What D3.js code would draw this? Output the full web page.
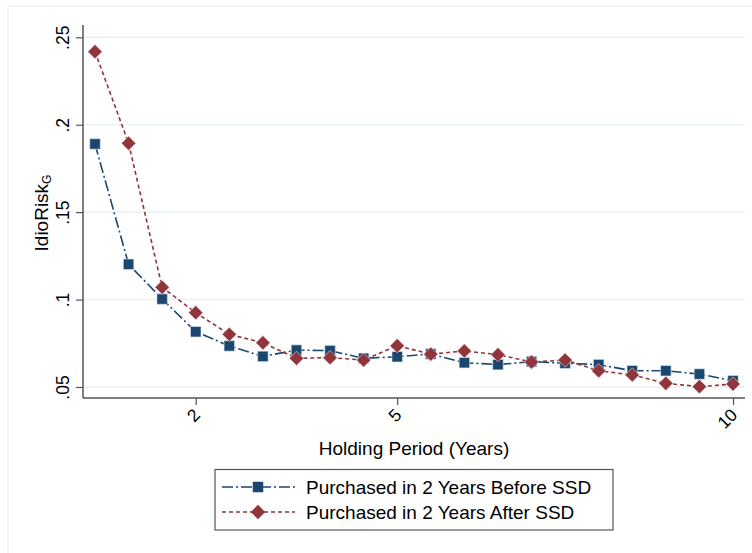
<!DOCTYPE html>
<html>
<head>
<meta charset="utf-8">
<script src="https://cdn.jsdelivr.net/npm/d3@7"></script>
<style>
  body { margin: 0; background: #fff; }
  svg { display: block; font-family: "Liberation Sans", Arial, sans-serif; }
</style>
</head>
<body>
<svg id="chart" width="752" height="553"></svg>
<script>
// data
let years = [0.5, 1, 1.5, 2, 2.5, 3, 3.5, 4, 4.5, 5, 5.5, 6, 6.5, 7, 7.5, 8, 8.5, 9, 9.5, 10]
let beforeSSD = [0.189, 0.1202, 0.1003, 0.0816, 0.0735, 0.0675, 0.0711, 0.0708, 0.0664, 0.0673,
    0.0689, 0.0639, 0.0628, 0.0645, 0.0636, 0.0628, 0.0593, 0.0593, 0.0574, 0.0536]
let afterSSD = [0.2418, 0.1894, 0.107, 0.0925, 0.0801, 0.0753, 0.0664, 0.0668, 0.0654, 0.0736,
    0.0688, 0.0706, 0.0685, 0.0643, 0.0654, 0.0593, 0.0569, 0.0521, 0.0502, 0.0517]
let xTicks = [2, 5, 10]
let yTicks = [0.05, 0.1, 0.15, 0.2, 0.25]
let yTickLabels = ['.05', '.1', '.15', '.2', '.25']
let seriesNames = ['Purchased in 2 Years Before SSD', 'Purchased in 2 Years After SSD']

let navy = '#1a476f'
let maroon = '#90353b'

let svg = d3.select('#chart')
// outer frame
svg.append('rect').attr('x', 8).attr('y', 6).attr('width', 760).attr('height', 560)
    .attr('fill', 'none').attr('stroke', '#eaf2f3').attr('stroke-width', 1.5)

// plot region
let plotLeft = 83, plotRight = 745, plotTop = 25, plotBottom = 398
let xScale = d3.scaleLinear().domain([0.5, 10]).range([95, 733])
let yScale = d3.scaleLinear().domain([0.05, 0.25]).range([387, 37.3])

// grid
svg.append('g').selectAll('line').data(yTicks).enter().append('line')
    .attr('x1', plotLeft).attr('x2', plotRight)
    .attr('y1', d => yScale(d)).attr('y2', d => yScale(d))
    .attr('stroke', '#eaf2f3').attr('stroke-width', 1.5)

// y axis
let yAxis = svg.append('g').attr('transform', 'translate(' + plotLeft + ',0)')
    .call(d3.axisLeft(yScale).tickValues(yTicks).tickSize(7).tickSizeOuter(0).tickFormat((d, i) => yTickLabels[i]))
yAxis.select('.domain').remove()
yAxis.selectAll('.tick line').attr('stroke', '#555').attr('stroke-width', 1.2)
yAxis.selectAll('.tick text')
    .attr('x', 0).attr('y', 0).attr('dy', 0)
    .attr('transform', 'translate(-14,0) rotate(-90)')
    .attr('text-anchor', 'middle').attr('fill', '#000').attr('font-size', 17.5)
svg.append('line').attr('x1', plotLeft).attr('x2', plotLeft).attr('y1', plotTop).attr('y2', plotBottom)
    .attr('stroke', '#555').attr('stroke-width', 1.5)

// x axis
let xAxis = svg.append('g').attr('transform', 'translate(0,' + plotBottom + ')')
    .call(d3.axisBottom(xScale).tickValues(xTicks).tickSize(7).tickSizeOuter(0))
xAxis.select('.domain').remove()
xAxis.selectAll('.tick line').attr('stroke', '#555').attr('stroke-width', 1.2)
xAxis.selectAll('.tick text')
    .attr('x', 0).attr('y', 0).attr('dy', 0)
    .attr('transform', 'translate(5,18) rotate(-45)')
    .attr('text-anchor', 'end').attr('fill', '#000').attr('font-size', 17.5)
svg.append('line').attr('x1', plotLeft).attr('x2', plotRight).attr('y1', plotBottom).attr('y2', plotBottom)
    .attr('stroke', '#555').attr('stroke-width', 1.5)

// axis titles
svg.append('text').attr('x', 414).attr('y', 455).attr('text-anchor', 'middle')
    .attr('font-size', 19).text('Holding Period (Years)')
let yTitle = svg.append('text').attr('transform', 'translate(48,213) rotate(-90)')
    .attr('text-anchor', 'middle').attr('font-size', 19)
yTitle.append('tspan').text('IdioRisk')
yTitle.append('tspan').attr('font-size', 12).attr('dy', 3).text('G')

// lines
let line = d3.line().x((d, i) => xScale(years[i])).y(d => yScale(d))
svg.append('path').datum(beforeSSD).attr('d', line).attr('fill', 'none')
    .attr('stroke', navy).attr('stroke-width', 1.6).attr('stroke-dasharray', '11,3,2,3')
svg.append('path').datum(afterSSD).attr('d', line).attr('fill', 'none')
    .attr('stroke', maroon).attr('stroke-width', 1.6).attr('stroke-dasharray', '4,3')

let square = d3.symbol().type(d3.symbolSquare).size(110)
let diamond = d3.symbol().type(d3.symbolDiamond2).size(130)

svg.append('g').selectAll('path').data(beforeSSD).enter().append('path')
    .attr('d', square)
    .attr('transform', (d, i) => 'translate(' + xScale(years[i]) + ',' + yScale(d) + ')')
    .attr('fill', navy).attr('stroke', '#dfe8ee').attr('stroke-width', 0.6)
svg.append('g').selectAll('path').data(afterSSD).enter().append('path')
    .attr('d', diamond)
    .attr('transform', (d, i) => 'translate(' + xScale(years[i]) + ',' + yScale(d) + ')')
    .attr('fill', maroon).attr('stroke', '#eedfe0').attr('stroke-width', 0.6)

// legend
let legend = svg.append('g')
legend.append('rect').attr('x', 215).attr('y', 469.5).attr('width', 398).attr('height', 60.5)
    .attr('fill', '#fff').attr('stroke', '#555').attr('stroke-width', 1.2)
let rows = [
    {name: seriesNames[0], color: navy, dash: '11,3,2,3', sym: square},
    {name: seriesNames[1], color: maroon, dash: '4,3', sym: diamond}
]
rows.forEach((r, i) => {
    let y = 487 + i * 25
    legend.append('line').attr('x1', 222).attr('x2', 295).attr('y1', y).attr('y2', y)
        .attr('stroke', r.color).attr('stroke-width', 1.6).attr('stroke-dasharray', r.dash)
    legend.append('path').attr('d', r.sym).attr('transform', 'translate(258,' + y + ')')
        .attr('fill', r.color)
    legend.append('text').attr('x', 306).attr('y', y + 6.5).attr('font-size', 19).text(r.name)
})
</script>
</body>
</html>
